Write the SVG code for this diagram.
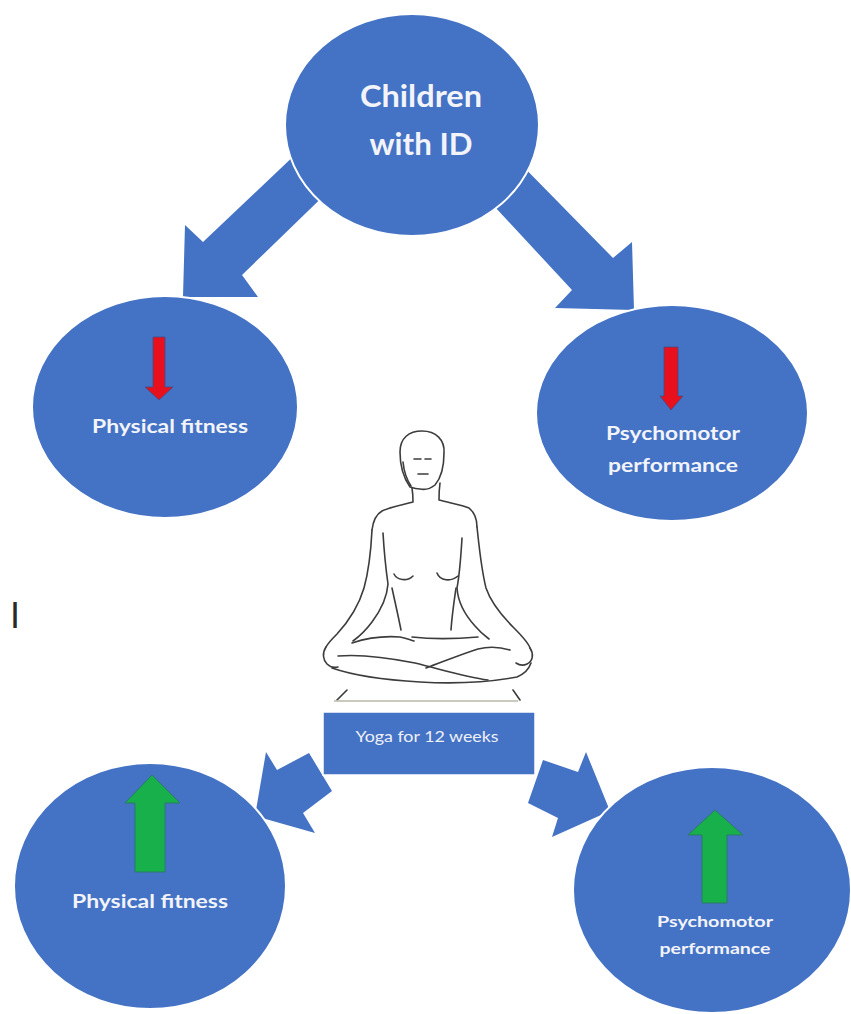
<svg xmlns="http://www.w3.org/2000/svg" width="851" height="1014" viewBox="0 0 851 1014">
  <style>
    .node { fill: #4472c4; stroke: #ffffff; stroke-width: 2; }
    .flow { fill: #4472c4; stroke: none; }
    .lbl { font-family: Lato, "Liberation Sans", sans-serif; font-weight: bold; fill: #f2f4fa; text-anchor: middle; }
    .down { fill: #e8101c; stroke: #3a4f8a; stroke-width: 0.8; }
    .up { fill: #17b04a; stroke: #2a7a6a; stroke-width: 1; }
    .ink { fill: none; stroke: #3c3c3c; stroke-width: 1.6; stroke-linecap: round; stroke-linejoin: round; }
  </style>
  <rect width="851" height="1014" fill="#ffffff"/>

  <!-- block arrows between the circles -->
  <g id="connectors">
    <polygon class="flow" points="300,150 203,242 185,225 183,297 258,297 242,275 340,180"/>
    <polygon class="flow" points="470,180 572,290 555,308 634,310 632,242 613,258 505,148"/>
    <polygon class="flow" points="309,753 277,770 266,752 255,816 315,833 303,813 332,791"/>
    <polygon class="flow" points="543,760 578,772 586,752 610,811 552,837 558,818 528,803"/>
  </g>

  <g id="children-with-id">
    <ellipse class="node" cx="412" cy="125" rx="127" ry="111"/>
    <text class="lbl" x="421" y="107" font-size="31" textLength="122" lengthAdjust="spacingAndGlyphs">Children</text>
    <text class="lbl" x="421" y="155" font-size="31" textLength="103" lengthAdjust="spacingAndGlyphs">with ID</text>
  </g>

  <g id="fitness-before">
    <ellipse class="node" cx="165" cy="407" rx="133" ry="111"/>
    <polygon class="down" points="153,337 165,337 165,387 173,387 159,400 145,387 153,387"/>
    <text class="lbl" x="170" y="433" font-size="19" textLength="156" lengthAdjust="spacingAndGlyphs">Physical fitness</text>
  </g>

  <g id="psychomotor-before">
    <ellipse class="node" cx="672" cy="413" rx="136" ry="108"/>
    <polygon class="down" points="664,347 678,347 678,396 683,396 671,410 660,396 664,396"/>
    <text class="lbl" x="673" y="440" font-size="18" textLength="134" lengthAdjust="spacingAndGlyphs">Psychomotor</text>
    <text class="lbl" x="673" y="472" font-size="18" textLength="130" lengthAdjust="spacingAndGlyphs">performance</text>
  </g>

  <!-- seated figure in lotus pose -->
  <g id="yoga-figure">
    <!-- head and face -->
    <path class="ink" d="M410,487 C403,477 400,466 400,452 C400,438 409,431 422,431 C436,431 445,440 444,453 C444,466 441,478 435,485 C430,489 425,490 420,489 C416,489 413,488 410,487"/>
    <path class="ink" d="M403,462 C404,472 407,480 411,486" stroke-width="1.1"/>
    <path class="ink" d="M414,459 L421,459 M425,459 L431,459" stroke-width="1.2"/>
    <path class="ink" d="M418,474 L428,474" stroke-width="1.2"/>
    <!-- neck and shoulders -->
    <path class="ink" d="M412,488 C413,494 413,498 413,502 C402,505 390,507 382,511 C375,515 373,522 372,530"/>
    <path class="ink" d="M440,483 C439,490 439,495 439,500 C450,503 462,505 469,508 C475,513 477,520 477,527"/>
    <!-- left arm -->
    <path class="ink" d="M372,530 C371,550 369,570 364,588 C359,605 348,622 337,634 C332,639 328,643 326,647"/>
    <path class="ink" d="M326,647 C322,653 323,660 327,664 C330,667 334,668 338,667"/>
    <path class="ink" d="M383,533 C384,550 386,570 388,584 C387,598 381,610 372,622 C366,630 360,636 353,641"/>
    <!-- right arm -->
    <path class="ink" d="M477,527 C479,545 481,568 486,588 C491,603 502,616 514,628 C522,636 528,642 530,648"/>
    <path class="ink" d="M530,648 C534,654 533,661 527,664 C523,666 519,665 516,663"/>
    <path class="ink" d="M462,538 C461,555 460,572 457,588 C458,603 465,615 475,626 C480,632 485,636 489,639"/>
    <!-- torso -->
    <path class="ink" d="M394,574 C397,580 407,582 413,576"/>
    <path class="ink" d="M437,573 C440,581 451,582 458,576"/>
    <path class="ink" d="M392,588 C395,602 398,615 401,630"/>
    <path class="ink" d="M456,588 C454,602 452,615 451,630"/>
    <path class="ink" d="M412,637 C430,639 455,639 478,637"/>
    <!-- crossed legs -->
    <path class="ink" d="M352,643 C367,638 386,636 400,637 C406,638 410,640 414,641"/>
    <path class="ink" d="M338,656 C360,654 385,657 415,663 C440,669 465,677 488,680"/>
    <path class="ink" d="M426,668 C445,661 462,654 478,649 C490,646 500,647 510,650"/>
    <path class="ink" d="M332,668 C355,676 385,680 420,682 C455,684 490,682 517,677 C524,674 529,669 531,663"/>
    <!-- cushion edges -->
    <path class="ink" d="M337,700 L347,690 M513,690 L520,700" stroke-width="1.3"/>
    <line x1="334" y1="701" x2="518" y2="701" stroke="#b8b8a8" stroke-width="1.5"/>
  </g>

  <g id="yoga-12-weeks">
    <rect x="323" y="712" width="212" height="63" fill="#4472c4" stroke="#ffffff" stroke-width="1.5"/>
    <text x="427" y="742" font-family="Lato, 'Liberation Sans', sans-serif" font-size="15" fill="#eef0f8" text-anchor="middle" textLength="143" lengthAdjust="spacingAndGlyphs">Yoga for 12 weeks</text>
  </g>

  <g id="fitness-after">
    <ellipse class="node" cx="150" cy="886" rx="136" ry="123"/>
    <polygon class="up" points="152,775 180,803 165,803 165,872 135,872 135,803 125,803"/>
    <text class="lbl" x="150" y="908" font-size="19" textLength="156" lengthAdjust="spacingAndGlyphs">Physical fitness</text>
  </g>

  <g id="psychomotor-after">
    <ellipse class="node" cx="712" cy="890" rx="139" ry="123"/>
    <polygon class="up" points="715,810 743,835 727,835 727,903 702,903 702,835 688,835"/>
    <text class="lbl" x="715" y="927" font-size="16" textLength="116" lengthAdjust="spacingAndGlyphs">Psychomotor</text>
    <text class="lbl" x="715" y="954" font-size="16" textLength="111" lengthAdjust="spacingAndGlyphs">performance</text>
  </g>

  <text x="10" y="628" font-family="'Liberation Sans', sans-serif" font-size="36" fill="#2a2a2a">I</text>
</svg>
